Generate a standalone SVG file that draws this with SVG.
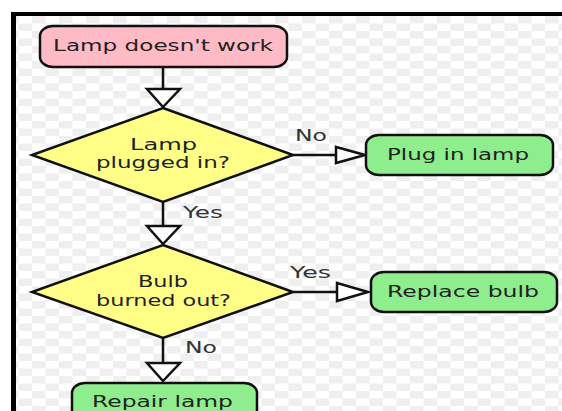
<svg xmlns="http://www.w3.org/2000/svg" width="562" height="411" viewBox="0 0 562 411">
  <defs>
    <pattern id="checker" x="5" y="16" width="27" height="15" patternUnits="userSpaceOnUse">
      <rect width="27" height="15" fill="#ffffff"/>
      <rect x="0" y="0" width="13.5" height="7.5" fill="#efefef"/>
      <rect x="13.5" y="7.5" width="13.5" height="7.5" fill="#efefef"/>
    </pattern>
    <style>
      .node { stroke: #111; stroke-width: 2.5; }
      .start { fill: #ffbbc5; }
      .decision { fill: #ffff88; }
      .action { fill: #8eee8e; }
      .line { stroke: #111; stroke-width: 2.5; fill: none; }
      .head { fill: #ffffff; stroke: #111; stroke-width: 2.5; stroke-linejoin: miter; }
      text { font-family: "DejaVu Sans", "Liberation Sans", sans-serif; font-size: 15px; fill: #222; text-anchor: middle; }
      .lbl { fill: #333; }
    </style>
  </defs>

  <rect x="0" y="0" width="562" height="411" fill="#ffffff"/>
  <rect x="16" y="16" width="546" height="395" fill="url(#checker)"/>
  <rect x="11" y="12" width="551" height="4" fill="#000"/>
  <rect x="11" y="12" width="5" height="399" fill="#000"/>

  <g id="connectors">
    <line class="line" x1="163" y1="67" x2="163" y2="89"/>
    <polygon class="head" points="147,89 180,89 163,107"/>
    <line class="line" x1="163" y1="202" x2="163" y2="226"/>
    <polygon class="head" points="147,226 180,226 163,244"/>
    <line class="line" x1="163" y1="338" x2="163" y2="363"/>
    <polygon class="head" points="147,363 180,363 163,381"/>
    <line class="line" x1="293" y1="155" x2="336" y2="155"/>
    <polygon class="head" points="336,147 336,163 365,155"/>
    <line class="line" x1="293" y1="292" x2="337" y2="292"/>
    <polygon class="head" points="337,283 337,301 368,292"/>
    <text class="lbl" x="203" y="218" textLength="40" lengthAdjust="spacingAndGlyphs">Yes</text>
    <text class="lbl" x="201" y="353" textLength="32" lengthAdjust="spacingAndGlyphs">No</text>
    <text class="lbl" x="311" y="141" textLength="32" lengthAdjust="spacingAndGlyphs">No</text>
    <text class="lbl" x="310.5" y="278" textLength="41" lengthAdjust="spacingAndGlyphs">Yes</text>
  </g>

  <g id="lamp-doesnt-work">
    <rect class="node start" x="40" y="26" width="247" height="41" rx="13" ry="10"/>
    <text x="163" y="51" textLength="220" lengthAdjust="spacingAndGlyphs">Lamp doesn't work</text>
  </g>

  <g id="lamp-plugged-in">
    <polygon class="node decision" points="163,108 293,155 163,202 32,155"/>
    <text x="163.5" y="150" textLength="67" lengthAdjust="spacingAndGlyphs">Lamp</text>
    <text x="163" y="168" textLength="134" lengthAdjust="spacingAndGlyphs">plugged in?</text>
  </g>

  <g id="plug-in-lamp">
    <rect class="node action" x="366" y="135" width="187" height="40" rx="13" ry="10"/>
    <text x="458" y="160" textLength="142" lengthAdjust="spacingAndGlyphs">Plug in lamp</text>
  </g>

  <g id="bulb-burned-out">
    <polygon class="node decision" points="163,245 293,292 163,338 32,292"/>
    <text x="163" y="287" textLength="50" lengthAdjust="spacingAndGlyphs">Bulb</text>
    <text x="163.5" y="306" textLength="135" lengthAdjust="spacingAndGlyphs">burned out?</text>
  </g>

  <g id="replace-bulb">
    <rect class="node action" x="371" y="272" width="186" height="40" rx="13" ry="10"/>
    <text x="463" y="297" textLength="152" lengthAdjust="spacingAndGlyphs">Replace bulb</text>
  </g>

  <g id="repair-lamp">
    <rect class="node action" x="72" y="383" width="185" height="40" rx="13" ry="10"/>
    <text x="162.5" y="407" textLength="141" lengthAdjust="spacingAndGlyphs">Repair lamp</text>
  </g>
</svg>
